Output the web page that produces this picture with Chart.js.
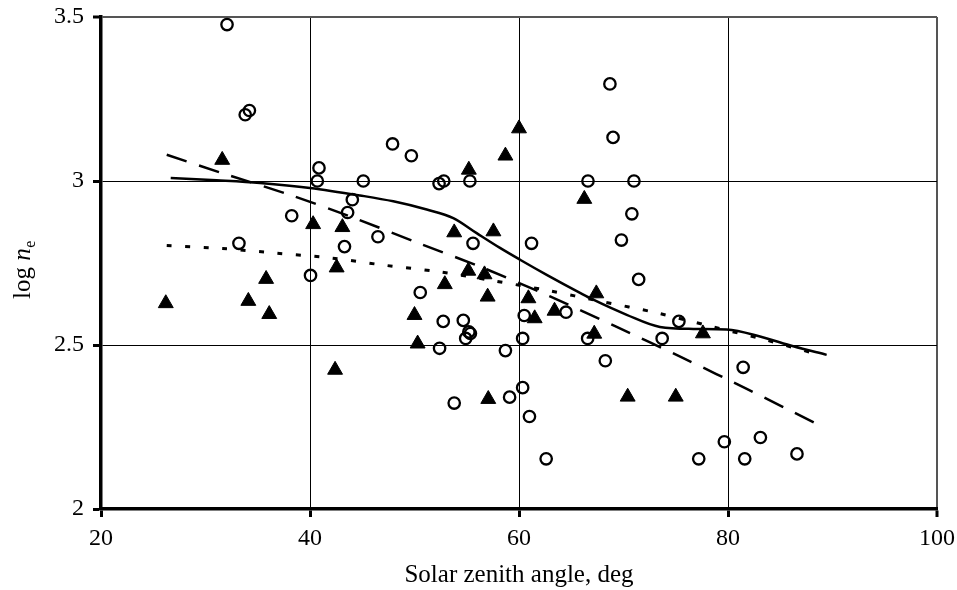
<!DOCTYPE html>
<html><head><meta charset="utf-8">
<script src="https://cdn.jsdelivr.net/npm/chart.js@4/dist/chart.umd.min.js"></script>
<style>html,body{margin:0;padding:0;background:#fff;}</style>
</head><body>
<canvas id="c" width="957" height="590"></canvas>
<script>
const xTicks = [20, 40, 60, 80, 100];
const yTicks = [2, 2.5, 3, 3.5];
const xTitle = 'Solar zenith angle, deg';

const openCircles = [
  [32.06,3.477],[33.8,3.202],[34.2,3.215],[33.2,2.81],[38.25,2.894],[40.05,2.712],
  [40.86,3.04],[40.7,3.0],[45.1,3.0],[44.05,2.943],[43.6,2.904],[43.3,2.80],
  [46.5,2.83],[47.9,3.113],[49.7,3.077],[52.35,2.992],[52.8,3.0],[55.3,3.0],
  [55.6,2.81],[61.2,2.81],[68.7,3.296],[69.0,3.133],[66.6,3.0],[71.0,3.0],
  [70.8,2.90],[69.8,2.82],[71.45,2.70],[50.55,2.66],[52.75,2.572],[54.67,2.575],
  [55.2,2.54],[55.35,2.535],[54.9,2.52],[52.4,2.49],[58.7,2.483],[60.5,2.59],
  [60.35,2.52],[64.5,2.60],[53.8,2.323],[59.1,2.341],[60.35,2.37],[61.0,2.282],
  [62.6,2.153],[66.57,2.52],[68.26,2.452],[75.3,2.572],[73.7,2.52],[81.45,2.432],
  [79.65,2.205],[83.1,2.218],[77.2,2.153],[81.6,2.153],[86.6,2.168]
];
const filledTriangles = [
  [31.6,3.064],[26.2,2.627],[34.1,2.634],[35.8,2.701],[36.1,2.594],[40.3,2.868],
  [42.55,2.736],[42.4,2.424],[43.1,2.859],[50.0,2.591],[50.3,2.504],[52.9,2.685],
  [53.8,2.843],[55.15,2.726],[55.2,3.034],[56.7,2.715],[57.0,2.647],[57.06,2.335],
  [57.55,2.846],[58.7,3.077],[60.0,3.160],[60.9,2.642],[61.5,2.581],[63.4,2.604],
  [66.25,2.945],[67.2,2.534],[67.4,2.657],[70.4,2.342],[75.0,2.342],[77.6,2.535]
];
const smoothCurve = [
  [26.67,3.009],[31.07,3.002],[35.22,2.994],[40.0,2.979],[44.78,2.956],[47.97,2.938],
  [51.17,2.913],[53.71,2.887],[55.95,2.841],[58.18,2.796],[60.1,2.76],[62.65,2.714],
  [65.84,2.659],[67.11,2.638],[70.31,2.592],[73.49,2.555],[76.68,2.549],[79.87,2.547],
  [83.06,2.526],[86.25,2.496],[89.44,2.47]
];
const dashedCurve = [
  [26.29,3.080],[31.39,3.026],[37.77,2.961],[43.83,2.892],[50.36,2.811],[56.58,2.735],
  [62.97,2.648],[69.35,2.555],[75.72,2.460],[81.94,2.364],[88.33,2.262]
];
const dottedCurve = [
  [26.29,2.803],[31.65,2.794],[36.81,2.780],[42.08,2.765],[47.18,2.743],[52.37,2.723],
  [57.54,2.696],[62.8,2.666],[67.85,2.633],[73.18,2.598],[78.34,2.557],[83.54,2.516],
  [88.74,2.470]
];

const toPts = a => a.map(p => ({x: p[0], y: p[1]}));
const SERIF = '"Liberation Serif", "Times New Roman", serif';

const yTitlePlugin = {
  id: 'ytitle',
  afterDraw(chart) {
    const ctx = chart.ctx;
    ctx.save();
    ctx.translate(30, 270);
    ctx.rotate(-Math.PI / 2);
    ctx.fillStyle = '#000';
    ctx.textBaseline = 'alphabetic';
    const f1 = '25px ' + SERIF, f2 = 'italic 25px ' + SERIF, f3 = '16px ' + SERIF;
    ctx.font = f1; const w1 = ctx.measureText('log ').width;
    ctx.font = f2; const w2 = ctx.measureText('n').width;
    ctx.font = f3; const w3 = ctx.measureText('e').width;
    let x = -(w1 + w2 + w3) / 2;
    ctx.font = f1; ctx.fillText('log ', x, 0); x += w1;
    ctx.font = f2; ctx.fillText('n', x, 0); x += w2 + 0.5;
    ctx.font = f3; ctx.fillText('e', x, 5);
    ctx.restore();
  }
};

const gridW = (edgeVal) => (ctx) => (ctx.tick && ctx.tick.value === edgeVal) ? 2 : 1;
const gridC = (edgeVal) => (ctx) => (ctx.tick && ctx.tick.value === edgeVal) ? '#555' : '#000';

new Chart(document.getElementById('c'), {
  type: 'scatter',
  data: {
    datasets: [
      {data: toPts(smoothCurve), showLine: true, pointRadius: 0, borderColor: '#000', borderWidth: 2.5, cubicInterpolationMode: 'monotone', fill: false},
      {data: toPts(dashedCurve), showLine: true, pointRadius: 0, borderColor: '#000', borderWidth: 2.5, borderDash: [21, 13], tension: 0.3, fill: false},
      {data: toPts(dottedCurve), showLine: true, pointRadius: 0, borderColor: '#000', borderWidth: 3, borderDash: [5, 13.5], tension: 0.3, fill: false},
      {data: toPts(openCircles), pointStyle: 'circle', pointRadius: 5.7, pointBorderWidth: 2.3, pointBorderColor: '#000', pointBackgroundColor: 'rgba(0,0,0,0)', showLine: false},
      {data: toPts(filledTriangles), pointStyle: 'triangle', pointRadius: 8.6, pointBorderWidth: 1, pointBorderColor: '#000', pointBackgroundColor: '#000', showLine: false}
    ]
  },
  options: {
    responsive: false,
    animation: false,
    devicePixelRatio: 1,
    layout: {padding: {left: 0, top: 17, right: 20, bottom: 0}},
    plugins: {legend: {display: false}, tooltip: {enabled: false}},
    scales: {
      x: {
        type: 'linear', min: 20, max: 100,
        afterBuildTicks: s => { s.ticks = xTicks.map(v => ({value: v})); },
        afterFit: s => { s.height = 81; s.paddingLeft = 0; s.paddingRight = 0; },
        grid: {color: gridC(100), lineWidth: gridW(100), drawTicks: true, tickLength: 8, tickWidth: 3, tickColor: '#000'},
        border: {display: true, color: '#000', width: 3.5},
        ticks: {color: '#000', font: {family: SERIF, size: 24}, padding: 7, maxRotation: 0, autoSkip: false},
        title: {display: true, text: xTitle, color: '#000', font: {family: SERIF, size: 25}, padding: {top: 0, bottom: 0}}
      },
      y: {
        type: 'linear', min: 2, max: 3.5,
        afterBuildTicks: s => { s.ticks = yTicks.map(v => ({value: v})); },
        afterFit: s => { s.width = 101; s.paddingTop = 0; s.paddingBottom = 0; },
        grid: {color: gridC(3.5), lineWidth: gridW(3.5), drawTicks: true, tickLength: 8, tickWidth: 3, tickColor: '#000'},
        border: {display: true, color: '#000', width: 3.5},
        ticks: {color: '#000', font: {family: SERIF, size: 24}, padding: 9, autoSkip: false,
                callback: v => String(v)}
      }
    }
  },
  plugins: [yTitlePlugin]
});
</script>
</body></html>
